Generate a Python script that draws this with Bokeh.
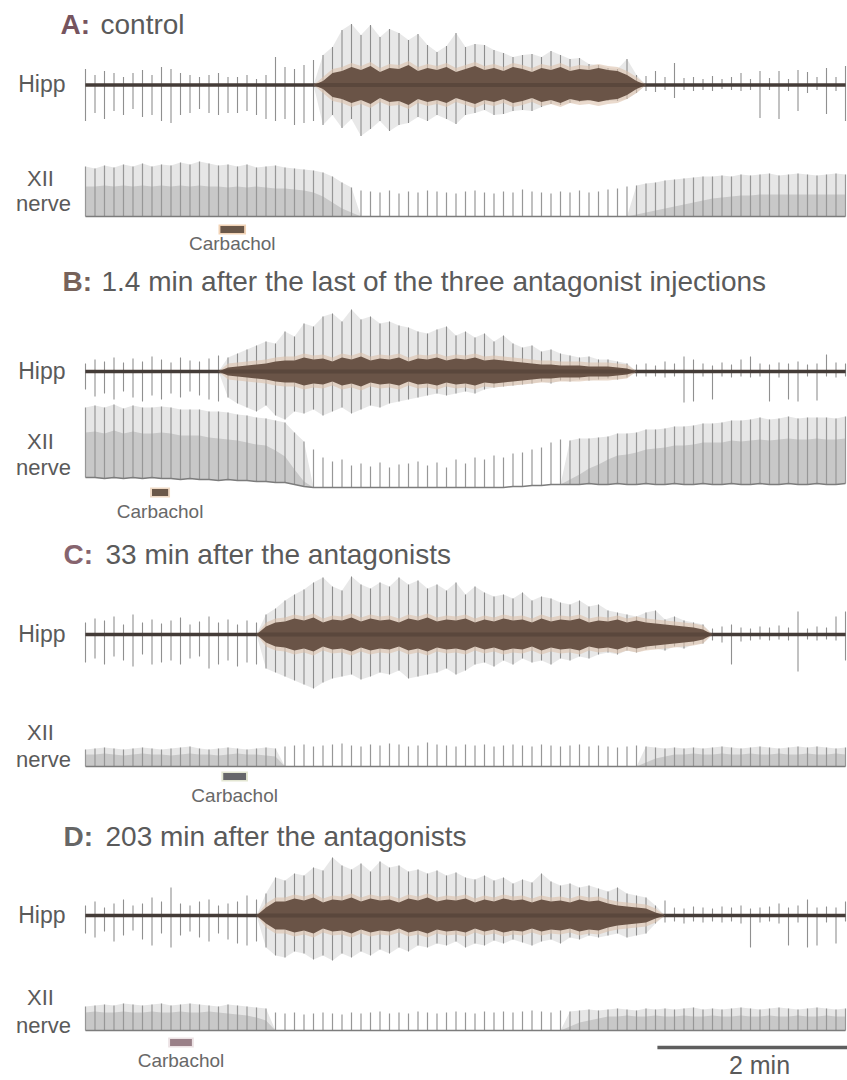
import numpy as np
from bokeh.plotting import figure
from bokeh.models import Range1d
from bokeh.core.properties import value
from bokeh.embed import file_html
from bokeh.resources import INLINE

# ---------------- data (amplitudes, one sample every 0.1 min) ----------------
STEP_MIN = 0.1

panel_letters = ["A:", "B:", "C:", "D:"]
panel_titles = ["control",
                "1.4 min after the last of the three antagonist injections",
                "33 min after the antagonists",
                "203 min after the antagonists"]

# Hipp: upward extent, downward extent, half-width of the dense burst core
hipp_a_hi = [16,10,14,12,8,12,15,10,18,16,12,10,8,10,12,8,8,10,6,10,28,18,16,20,25,30,
             38,55,61,50,60,48,56,52,45,51,40,33,39,52,38,41,40,35,32,28,
             30,31,28,34,30,26,27,21,20,17,16,26,10,9,14,8,22,7,8,6,
             9,6,8,12,6,14,7,14,6,15,13,8,17,8,19]
hipp_a_lo = [36,28,34,26,30,24,32,30,36,38,30,28,24,28,30,28,28,26,30,34,36,34,40,38,36,40,
             30,43,34,51,44,36,46,40,38,32,36,30,34,39,30,28,25,30,29,26,
             25,26,22,19,20,18,17,16,16,16,16,14,8,6,7,5,13,5,6,5,
             6,4,5,6,5,33,5,34,6,26,8,5,29,6,36]
hipp_a_core = [0,0,0,0,0,0,0,0,0,0,0,0,0,0,0,0,0,0,0,0,0,0,0,0,0,4,12,
               14,18,15,19,13,17,16,20,14,17,15,18,13,16,19,15,17,14,18,16,13,17,15,18,14,16,15,17,
               15,14,10,4,
               0,0,0,0,0,0,0,0,0,0,0,0,0,0,0,0,0,0,0,0,0,0]

hipp_b_hi = [8,12,10,14,9,13,10,15,12,9,14,11,10,13,
             16,14,18,22,26,30,28,40,35,48,45,55,58,50,62,52,55,48,50,46,
             44,40,38,42,45,36,40,34,38,30,36,28,24,26,20,22,18,16,14,15,
             12,12,10,8,7,8,6,10,8,15,12,8,6,9,7,12,15,8,7,9,
             8,10,7,8,17,9,8]
hipp_b_lo = [18,25,22,28,20,26,30,24,28,22,26,20,24,28,
             30,26,32,36,40,34,44,48,40,42,38,44,40,36,42,38,34,36,32,30,
             28,26,24,22,24,22,20,22,18,16,15,14,13,12,10,12,9,10,8,9,
             8,7,8,6,5,5,5,6,5,31,30,5,28,5,6,5,6,5,30,6,
             28,30,5,29,5,6,5]
hipp_b_core = [0,0,0,0,0,0,0,0,0,0,0,0,0,0,0,
               4,5,6,7,8,10,11,
               11,14,12,13,10,14,12,15,11,13,12,14,10,13,12,14,11,13,12,14,11,12,
               11,10,9,8,7,7,6,6,6,5,5,5,4,3,
               0,0,0,0,0,0,0,0,0,0,0,0,0,0,0,0,0,0,0,0,0,0,0]

hipp_c_hi = [12,16,14,18,10,20,12,15,11,14,17,10,13,18,12,15,10,14,12,
             20,26,34,40,45,52,57,48,44,58,50,46,52,48,57,50,54,46,50,44,
             52,40,48,42,38,40,36,42,34,38,36,32,30,34,28,30,24,22,20,18,
             22,24,15,18,14,12,10,6,8,10,7,6,8,7,9,7,23,6,8,7,18,23]
hipp_c_lo = [28,24,30,22,26,32,20,30,28,26,30,24,22,34,30,26,32,28,30,
             34,38,42,46,50,54,48,44,42,40,45,42,38,40,36,44,42,40,38,34,
             40,36,30,28,32,26,30,24,28,26,30,24,26,22,24,20,18,20,16,18,
             15,14,16,12,14,10,9,6,8,30,7,6,5,6,5,6,37,5,6,5,6,26]
hipp_c_core = [0,0,0,0,0,0,0,0,0,0,0,0,0,0,0,0,0,0,0,
               8,12,
               13,16,14,17,12,15,14,17,13,16,14,15,12,16,14,17,13,15,14,16,
               12,15,13,16,14,15,12,16,13,15,14,16,12,14,13,15,12,14,
               12,11,10,9,8,7,5,
               0,0,0,0,0,0,0,0,0,0,0,0,0,0,0]

hipp_d_hi = [10,14,8,12,16,10,12,18,14,28,12,10,14,16,10,12,14,20,16,
             22,38,35,42,40,48,45,58,50,46,52,44,54,48,50,44,46,42,45,40,
             43,38,36,40,35,38,32,36,33,42,34,30,32,28,30,27,24,28,22,20,
             18,10,15,8,7,9,8,7,9,8,10,7,8,9,12,8,10,16,8,9,8,14]
hipp_d_lo = [18,22,16,26,20,15,24,30,18,32,20,16,22,26,18,24,28,30,26,
             32,40,42,36,38,44,40,45,38,42,36,40,34,38,32,36,30,32,28,30,
             26,32,28,30,25,28,24,27,30,26,24,28,22,24,20,22,20,18,22,20,
             18,8,7,6,8,6,7,6,7,6,8,32,7,6,8,30,7,32,30,7,28,6]
hipp_d_core = [0,0,0,0,0,0,0,0,0,0,0,0,0,0,0,0,0,0,0,
               8,14,
               14,17,15,18,13,16,15,18,14,17,15,16,13,17,15,18,14,16,15,17,
               13,16,14,17,15,16,13,16,14,15,13,16,14,15,
               12,10,9,8,7,3,
               0,0,0,0,0,0,0,0,0,0,0,0,0,0,0,0,0,0,0,0]

# XII nerve: burst height, height of the solid (overlapping) part
xii_a_top = [50,48,51,49,52,50,53,50,52,51,54,52,55,53,51,52,50,52,49,50,51,
             49,48,47,46,44,40,34,29,26,
             25,24,26,23,25,24,26,25,24,23,25,26,24,23,25,24,27,25,24,23,25,24,26,24,25,27,
             28,30,31,33,34,36,37,38,39,40,
             40,41,40,42,41,42,43,41,42,43,42,41,42,43,42]
xii_a_fill = [30,30,31,30,31,30,31,30,31,30,31,30,31,30,30,29,30,29,30,29,28,28,27,26,24,
              20,14,8,4,0,
              0,0,0,0,0,0,0,0,0,0,0,0,0,0,0,0,0,0,0,0,0,0,0,0,0,0,0,0,
              2,4,6,8,10,12,14,16,
              18,19,20,21,21,22,22,22,22,22,22,22,22,22,22]

xii_b_top = [70,72,71,73,70,72,71,70,72,71,70,69,70,68,69,67,66,65,64,63,
             62,60,52,45,38,30,26,28,22,24,
             21,25,20,23,24,26,22,25,20,28,
             24,30,28,32,30,33,34,36,38,42,
             45,44,46,45,47,48,50,51,52,54,
             55,56,57,58,59,60,61,62,63,64,
             65,66,65,66,67,66,67,66,67,66,67]
xii_b_fill = [45,46,45,47,45,46,45,44,46,45,44,43,44,42,42,40,40,38,37,36,
              32,26,15,5,0,
              0,0,0,0,0,0,0,0,0,0,0,0,0,0,0,0,0,0,0,0,0,0,0,0,0,0,
              5,10,15,20,25,28,30,32,34,36,
              37,38,39,40,41,42,42,43,43,44,44,44,45,45,45,45,45,45,45,45]
# B: drift of the XII baseline (px above the lowest level)
xii_b_drift = [10,10,9,10,9,10,9,10,9,9,8,9,8,8,7,8,7,7,6,6,5,5,
               3,1,
               0,0,0,0,0,0,0,0,0,0,0,0,0,0,0,0,0,0,0,0,0,
               1,1,2,2,3,3,
               3,3,4,3,3,4,3,3,4,3,3,4,3,3,4,3,3,4,3,3,4,3,3,4,3,3,4,3,3,4]

xii_c_top = [17,18,19,18,17,18,19,18,17,18,19,20,18,17,18,19,18,17,18,19,18,
             20,21,22,20,21,22,23,21,20,22,21,23,22,20,21,24,22,21,20,22,
             21,22,20,21,22,21,20,22,21,20,21,22,20,21,20,19,20,21,20,19,
             18,19,18,19,18,19,20,19,18,19,20,19,18,19,20,19,20,19,18,19]
xii_c_fill = [12,12,13,12,11,12,13,12,12,11,12,13,12,12,11,12,13,12,12,11,10,
              0,0,0,0,0,0,0,0,0,0,0,0,0,0,0,0,0,0,0,0,0,0,0,0,0,0,0,0,0,0,0,0,0,0,0,0,0,0,
              4,8,10,12,
              12,13,12,12,13,12,12,13,12,12,13,12,12,13,12,12,13,12]

xii_d_top = [24,25,26,25,27,26,25,26,27,25,26,27,26,25,24,26,25,24,23,22,
             18,17,18,16,17,18,17,16,18,17,18,19,17,18,17,19,18,17,18,19,
             18,17,19,18,19,18,19,20,19,18,20,19,20,
             21,20,21,22,21,20,22,21,22,21,22,23,21,22,21,22,23,22,21,22,
             23,22,21,22,23,22,21,22]
xii_d_fill = [18,19,18,18,19,18,18,19,18,18,19,18,18,19,18,17,16,15,13,10,
              0,0,0,0,0,0,0,0,0,0,0,0,0,0,0,0,0,0,0,0,0,0,0,0,0,0,0,0,0,0,0,
              4,8,10,12,
              14,14,15,14,14,15,14,14,15,14,14,15,14,14,15,14,14,15,14,14,15,14,14,15,14,14]

# Carbachol application (start, duration in min)
carb_start = [1.42, 0.70, 1.45, 0.89]
carb_dur = [0.25, 0.17, 0.24, 0.23]

scale_start_min = 6.02
scale_len_min = 2.0

# ---------------- layout / style ----------------
PX_PER_MIN = 95.0
X0_PAGE = 85.0


def t_of(px):
    return (px - X0_PAGE) / PX_PER_MIN


hipp_base = [84.5, 371, 634, 915]
xii_base = [216, 487, 766, 1030]
title_mid = [24, 281, 554, 836]
letter_x = [60, 62, 63, 63]
title_x = [100, 101, 105, 105]
letter_colors = ["#76545e", "#76625a", "#86646e", "#666666"]
xii_lbl_y = [178, 441, 732, 997]
nerve_lbl_y = [203, 467, 759, 1025]
carb_y = [229, 492, 776, 1042]
carb_lbl_y = [243, 511, 795, 1060]
carb_colors = ["#6b5849", "#6b5849", "#66666a", "#9a8088"]
carb_halo = ["#f2d3b6", "#efd9c4", "#e3e6d2", "#ece2e4"]

FONT = value("Liberation Sans")
TXT = "#5a5a5a"

p = figure(width=847, height=1080, output_backend="svg", toolbar_location=None,
           x_range=Range1d(t_of(0), t_of(847)), y_range=Range1d(1080, 0),
           x_axis_type=None, y_axis_type=None, min_border=0,
           outline_line_color=None, background_fill_color="white")
p.grid.visible = False

hipp_sets = [(hipp_a_hi, hipp_a_lo, hipp_a_core), (hipp_b_hi, hipp_b_lo, hipp_b_core),
             (hipp_c_hi, hipp_c_lo, hipp_c_core), (hipp_d_hi, hipp_d_lo, hipp_d_core)]
xii_sets = [(xii_a_top, xii_a_fill, None), (xii_b_top, xii_b_fill, xii_b_drift),
            (xii_c_top, xii_c_fill, None), (xii_d_top, xii_d_fill, None)]

for k in range(4):
    hi, lo, core = (np.array(a, dtype=float) for a in hipp_sets[k])
    n = min(len(hi), len(lo), len(core))
    hi, lo, core = hi[:n], lo[:n], core[:n]
    t = np.arange(n) * STEP_MIN
    b = hipp_base[k]
    burst = core > 0
    # grey haze of the many spikes inside the burst
    p.varea(x=t, y1=np.where(burst, b - hi, b), y2=np.where(burst, b + lo, b),
            fill_color="#b4b4b4", fill_alpha=0.3)
    # individual spikes
    p.segment(x0=t, y0=b + lo, x1=t, y1=b - hi, line_color="#7c7c7c",
              line_width=1.1, line_alpha=0.85)
    # baseline noise
    p.line(x=t, y=np.full(n, b), line_color="#3f3f3f", line_width=3)
    # tan halo and dark brown core of the burst
    p.varea(x=t, y1=np.where(burst, b - core - 4, b), y2=np.where(burst, b + core + 4, b),
            fill_color="#dcc2ab", fill_alpha=0.6)
    p.varea(x=t, y1=b - core, y2=b + core, fill_color="#6a5447")
    p.line(x=t, y=np.full(n, b), line_color="#4a3a32", line_width=4, line_alpha=0.5)

    top, fill, drift = xii_sets[k]
    top = np.array(top, dtype=float)
    fill = np.array(fill, dtype=float)
    m = min(len(top), len(fill))
    top, fill = top[:m], fill[:m]
    tx = np.arange(m) * STEP_MIN
    base = np.full(m, float(xii_base[k]))
    if drift is not None:
        d = np.array(drift, dtype=float)[:m]
        base[:len(d)] = base[:len(d)] - d
    dense = fill > 0
    p.varea(x=tx, y1=base, y2=np.where(dense, base - top, base), fill_color="#e6e6e6")
    p.varea(x=tx, y1=base, y2=base - fill, fill_color="#c8c8c8")
    p.segment(x0=tx, y0=base, x1=tx, y1=base - top, line_color="#979797", line_width=1.2)
    p.line(x=tx, y=base, line_color="#7c7c7c", line_width=1.4)

    # Carbachol bar
    cs, cd, cy = carb_start[k], carb_dur[k], carb_y[k]
    p.quad(left=[cs - 0.02], right=[cs + cd + 0.02], top=[cy - 5], bottom=[cy + 5],
           fill_color=carb_halo[k], line_color=None)
    p.quad(left=[cs], right=[cs + cd], top=[cy - 3.5], bottom=[cy + 3.5],
           fill_color=carb_colors[k], line_color=None)
    p.text(x=[cs + cd / 2], y=[carb_lbl_y[k]], text=["Carbachol"], text_font=FONT,
           text_font_size="19px", text_color="#686868", text_align="center",
           text_baseline="middle")

    # titles
    p.text(x=[t_of(letter_x[k])], y=[title_mid[k]], text=[panel_letters[k]],
           text_font=FONT, text_font_size="28px", text_font_style="bold",
           text_color=letter_colors[k], text_align="left", text_baseline="middle")
    p.text(x=[t_of(title_x[k])], y=[title_mid[k]], text=[panel_titles[k]],
           text_font=FONT, text_font_size="28px", text_color=TXT,
           text_align="left", text_baseline="middle")

    # trace labels
    p.text(x=[t_of(65)], y=[hipp_base[k] - 1], text=["Hipp"], text_font=FONT,
           text_font_size="23px", text_color=TXT, text_align="right", text_baseline="middle")
    p.text(x=[t_of(40)], y=[xii_lbl_y[k]], text=["XII"], text_font=FONT,
           text_font_size="22px", text_color=TXT, text_align="center", text_baseline="middle")
    p.text(x=[t_of(43)], y=[nerve_lbl_y[k]], text=["nerve"], text_font=FONT,
           text_font_size="22px", text_color=TXT, text_align="center", text_baseline="middle")

# 2-min scale bar
p.segment(x0=[scale_start_min], x1=[scale_start_min + scale_len_min], y0=[1047], y1=[1047],
          line_color="#5e5e5e", line_width=3.5)
p.text(x=[t_of(759)], y=[1064], text=["2 min"], text_font=FONT, text_font_size="25px",
       text_color=TXT, text_align="center", text_baseline="middle")

open("out.html", "w").write(file_html(p, INLINE))
